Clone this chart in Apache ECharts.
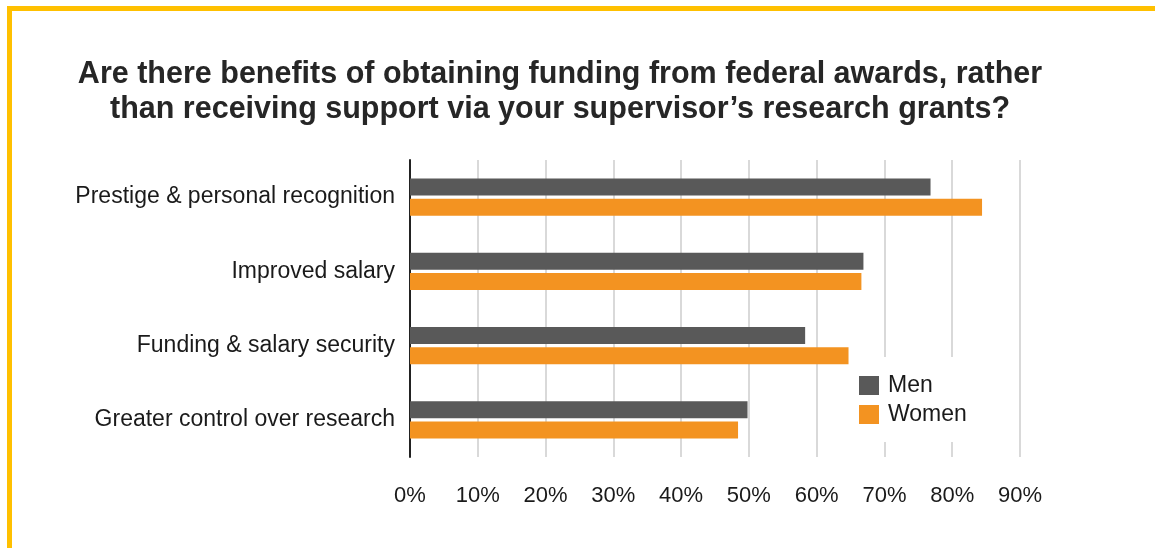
<!DOCTYPE html>
<html>
<head>
<meta charset="utf-8">
<script src="https://cdn.jsdelivr.net/npm/echarts@6/dist/echarts.min.js"></script>
<style>
html,body{margin:0;padding:0;background:#fff;}
#chart{width:1155px;height:548px;}
</style>
</head>
<body>
<div id="chart"></div>
<script>
const titleText = "Are there benefits of obtaining funding from federal awards, rather\nthan receiving support via your supervisor\u2019s research grants?";
const categories = ["Prestige & personal recognition", "Improved salary", "Funding & salary security", "Greater control over research"];
const seriesNames = ["Men", "Women"];
const menValues = [76.8, 66.9, 58.3, 49.8];
const womenValues = [84.4, 66.6, 64.7, 48.4];
const axisMax = 90;
const axisInterval = 10;

const chart = echarts.init(document.getElementById('chart'));
chart.setOption({
  backgroundColor: '#ffffff',
  animation: false,
  graphic: [
    { type: 'rect', shape: { x: 7, y: 6, width: 1148, height: 5 }, style: { fill: '#FFC000' } },
    { type: 'rect', shape: { x: 7, y: 6, width: 5, height: 542 }, style: { fill: '#FFC000' } }
  ],
  title: {
    text: titleText,
    left: 555,
    textAlign: 'center',
    top: 52,
    textStyle: {
      fontFamily: 'Liberation Sans, Arial, sans-serif',
      fontSize: 30.5,
      fontWeight: 'bold',
      color: '#262626',
      lineHeight: 35
    }
  },
  legend: {
    orient: 'vertical',
    left: 849,
    top: 357,
    padding: [17, 12, 16, 10],
    backgroundColor: '#ffffff',
    itemWidth: 20,
    itemHeight: 19,
    itemGap: 6,
    icon: 'rect',
    data: seriesNames,
    textStyle: {
      fontFamily: 'Liberation Sans, Arial, sans-serif',
      fontSize: 23,
      color: '#1a1a1a',
      padding: [0, 0, 0, 4]
    }
  },
  grid: { left: 410, right: 135, top: 160, bottom: 91, containLabel: false },
  xAxis: {
    type: 'value',
    min: 0,
    max: axisMax,
    interval: axisInterval,
    axisLine: { show: false },
    axisTick: { show: false },
    axisLabel: {
      formatter: '{value}%',
      margin: 28,
      fontFamily: 'Liberation Sans, Arial, sans-serif',
      fontSize: 22,
      color: '#1a1a1a'
    },
    splitLine: { show: true, lineStyle: { color: '#d9d9d9', width: 2 } }
  },
  yAxis: {
    type: 'category',
    data: categories,
    inverse: true,
    axisLine: { show: true, lineStyle: { color: '#222222', width: 2 } },
    axisTick: { show: false },
    axisLabel: {
      margin: 15,
      fontFamily: 'Liberation Sans, Arial, sans-serif',
      fontSize: 23,
      color: '#1a1a1a'
    },
    splitLine: { show: false }
  },
  series: [
    {
      name: seriesNames[0],
      type: 'bar',
      data: menValues,
      barWidth: 17,
      barGap: '18%',
      itemStyle: { color: '#595959' }
    },
    {
      name: seriesNames[1],
      type: 'bar',
      data: womenValues,
      barWidth: 17,
      barGap: '18%',
      itemStyle: { color: '#F39321' }
    }
  ]
});
</script>
</body>
</html>
